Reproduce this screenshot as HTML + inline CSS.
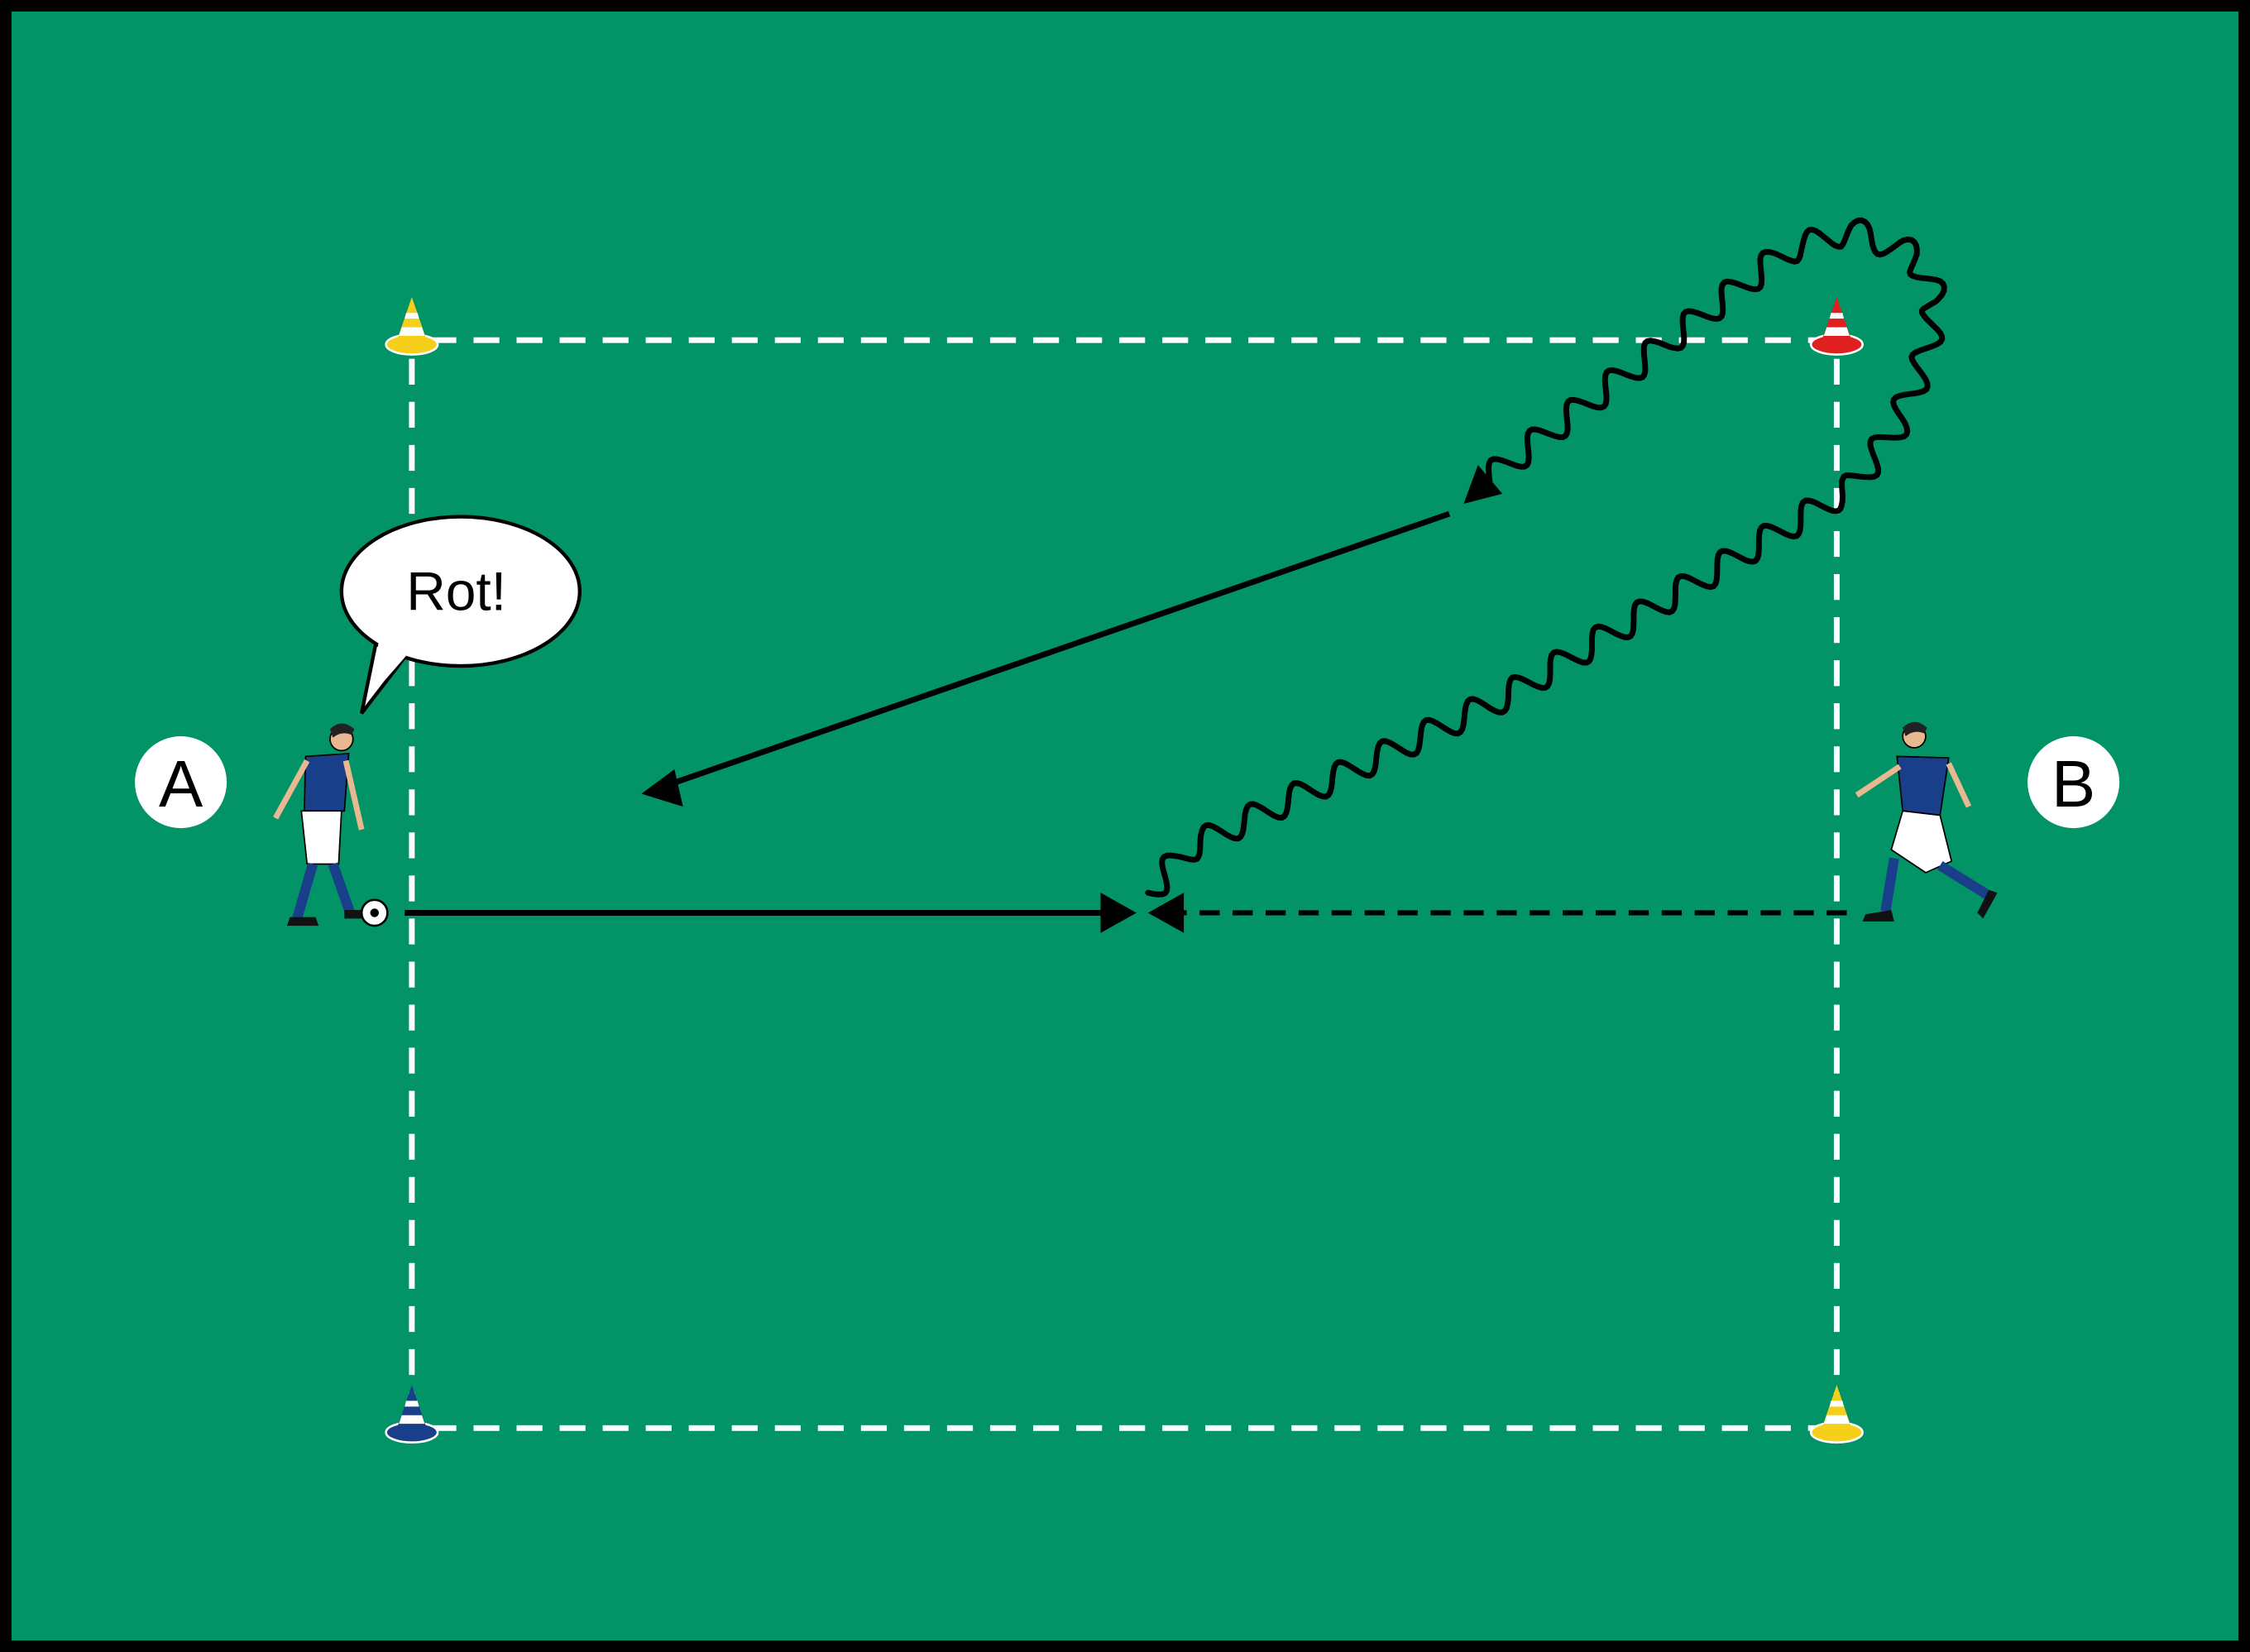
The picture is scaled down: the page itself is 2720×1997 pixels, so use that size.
<!DOCTYPE html>
<html><head><meta charset="utf-8"><style>
html,body{margin:0;padding:0;background:#000;}
svg{display:block;}
</style></head><body>
<svg id="s" width="2720" height="1997" viewBox="0 0 1568 1151" preserveAspectRatio="none" xmlns="http://www.w3.org/2000/svg">
<defs>
<marker id="ah" viewBox="0 0 10 10" refX="10" refY="5" markerWidth="9" markerHeight="9" markerUnits="userSpaceOnUse" orient="auto"></marker>
</defs>
<rect x="0" y="0" width="1568" height="1151" fill="#000"/>
<rect x="8" y="8" width="1552" height="1135" fill="#029466"/>
<!-- dashed field -->
<g stroke="#fff" stroke-width="4" stroke-dasharray="18 12" fill="none">
<line x1="300" y1="237" x2="1268" y2="237"/>
<line x1="300" y1="995" x2="1268" y2="995"/>
<line x1="287" y1="250" x2="287" y2="985"/>
<line x1="1280" y1="250" x2="1280" y2="985"/>
</g>
<!-- cones -->
<g id="cones"></g>
<!-- callout -->
<path d="M262,448 L252,497 L282,458 Z" fill="#fff" stroke="#000" stroke-width="2.5"/>
<ellipse cx="321" cy="412" rx="83" ry="52" fill="#fff" stroke="#000" stroke-width="2.5"/>
<path d="M264,447 L256,488 L283,457" fill="#fff"/>
<text x="318" y="425" font-family="Liberation Sans, sans-serif" font-size="38" text-anchor="middle">Rot!</text>
<!-- A B -->
<circle cx="126" cy="545" r="32" fill="#fff"/>
<text x="126" y="562" font-family="Liberation Sans, sans-serif" font-size="46" text-anchor="middle">A</text>
<circle cx="1445" cy="545" r="32" fill="#fff"/>
<text x="1445" y="562" font-family="Liberation Sans, sans-serif" font-size="46" text-anchor="middle">B</text>
<!-- arrows -->
<line x1="282" y1="636" x2="770" y2="636" stroke="#000" stroke-width="4"/>
<polygon points="767,622 792,636 767,650" fill="#000"/>
<line x1="1287" y1="636" x2="822" y2="636" stroke="#000" stroke-width="3.5" stroke-dasharray="14 9"/>
<polygon points="825,622 800,636 825,650" fill="#000"/>
<line x1="1010" y1="358" x2="468" y2="546" stroke="#000" stroke-width="4"/>
<polygon points="447,553 470,536 476,562" fill="#000"/>
<path id="wave" fill="none" stroke="#000" stroke-width="4" stroke-linecap="round"/>
<polygon points="1020,351 1030,324 1047,344" fill="#000"/>
<!-- player A -->
<g>
<circle cx="238" cy="515" r="8" fill="#e8b890" stroke="#000" stroke-width="1"/>
<path d="M230,508 q8,-8 17,0 l-2,4 q-7,-3 -13,2z" fill="#222"/>
<path d="M213,527 L243,525 L240,565 L212,566 Z" fill="#1a3f8a" stroke="#000" stroke-width="1"/>
<path d="M214,530 L192,570 M241,530 L252,578" stroke="#e8b890" stroke-width="4"/>
<path d="M210,565 L238,565 L236,602 L214,602 Z" fill="#fff" stroke="#000" stroke-width="1"/>
<path d="M218,602 L207,640 M232,602 L244,636" stroke="#1a3f8a" stroke-width="7"/>
<path d="M200,645 l22,0 l-2,-6 l-18,0z M240,640 l12,0 l0,-6 l-12,0z" fill="#111"/>
<circle cx="261" cy="636" r="9" fill="#fff" stroke="#000" stroke-width="1.5"/>
<circle cx="261" cy="636" r="3" fill="#000"/>
</g>
<!-- player B -->
<g>
<circle cx="1334" cy="513" r="8" fill="#e8b890" stroke="#000" stroke-width="1"/>
<path d="M1326,507 q8,-8 17,0 l-2,4 q-7,-3 -13,2z" fill="#222"/>
<path d="M1322,527 L1358,528 L1352,568 L1326,565 Z" fill="#1a3f8a" stroke="#000" stroke-width="1"/>
<path d="M1324,534 L1294,554 M1358,532 L1372,562" stroke="#e8b890" stroke-width="4"/>
<path d="M1326,565 L1352,568 L1360,600 L1342,608 L1318,592 Z" fill="#fff" stroke="#000" stroke-width="1"/>
<path d="M1320,598 L1314,635 M1352,603 L1386,624" stroke="#1a3f8a" stroke-width="7"/>
<path d="M1298,642 l22,0 l-2,-8 l-18,3z M1382,640 l10,-18 l-6,-2 l-8,16z" fill="#111"/>
</g>
</svg>
<script>
(function(){
var ns="http://www.w3.org/2000/svg";
function cone(x,y,c){
 var g=document.getElementById('cones');
 var s='<ellipse cx="'+x+'" cy="'+(y+3)+'" rx="18" ry="7" fill="'+c+'" stroke="#fff" stroke-width="1.5"/>'+
 '<path d="M'+(x-11)+','+(y+2)+' L'+x+','+(y-30)+' L'+(x+11)+','+(y+2)+' Z" fill="'+c+'"/>'+
 '<path d="M'+(x-7)+','+(y-9)+' L'+(x+7)+','+(y-9)+' L'+(x+9)+','+(y-3)+' L'+(x-9)+','+(y-3)+'Z" fill="#fff"/>'+
 '<path d="M'+(x-4)+','+(y-19)+' L'+(x+4)+','+(y-19)+' L'+(x+5)+','+(y-15)+' L'+(x-5)+','+(y-15)+'Z" fill="#fff"/>';
 g.insertAdjacentHTML('beforeend',s);
}
cone(287,237,'#f5cf1a');cone(1280,237,'#e02020');cone(287,995,'#1a3f8a');cone(1280,995,'#f5cf1a');
var pts=[[800,622],[830,590],[1050,485],[1290,340],[1320,300],[1340,255],[1350,210],[1335,178],[1290,160],[1245,175],[1035,335]];
// densify
var d=[];
for(var i=0;i<pts.length-1;i++){var a=pts[i],b=pts[i+1];var L=Math.hypot(b[0]-a[0],b[1]-a[1]);var n=Math.max(1,Math.ceil(L/2));for(var k=0;k<n;k++){var t=k/n;d.push([a[0]+(b[0]-a[0])*t,a[1]+(b[1]-a[1])*t]);}}
d.push(pts[pts.length-1]);
var s=0,out=[];
for(var j=0;j<d.length;j++){
 if(j>0)s+=Math.hypot(d[j][0]-d[j-1][0],d[j][1]-d[j-1][1]);
 var p=d[Math.max(0,j-6)],q=d[Math.min(d.length-1,j+6)];
 var dx=q[0]-p[0],dy=q[1]-p[1],l=Math.hypot(dx,dy)||1;
 var nx=-dy/l,ny=dx/l,amp=9*Math.sin(s*2*Math.PI/34);
 out.push((j?'L':'M')+(d[j][0]+nx*amp).toFixed(1)+','+(d[j][1]+ny*amp).toFixed(1));
}
document.getElementById('wave').setAttribute('d',out.join(''));
})();
</script>
</body></html>
